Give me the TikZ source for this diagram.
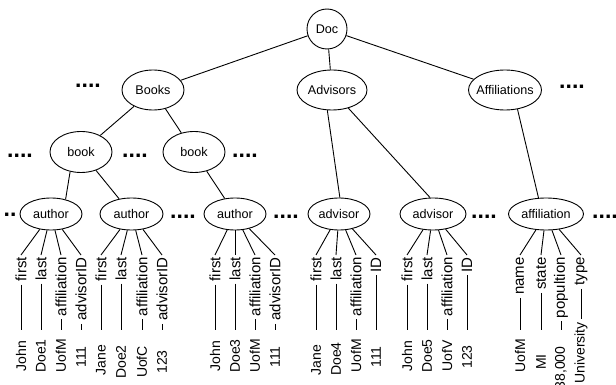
\documentclass[tikz,border=0pt]{standalone}
\usepackage{fontspec}
\setmainfont{Liberation Sans}
\usetikzlibrary{shapes.geometric}
\newcommand{\ctext}[1]{\makebox[0pt]{#1}}
\begin{document}
\begin{tikzpicture}[x=1pt,y=-1pt,
  ell/.style={draw, ellipse, line width=0.9pt, inner sep=0pt, font=\fontsize{12.6}{14}\selectfont},
  conn/.style={line width=0.9pt},
  lab/.style={rotate=90, anchor=east, inner sep=2pt, font=\fontsize{15}{17}\selectfont},
  val/.style={rotate=90, anchor=center, inner sep=0pt, font=\fontsize{14}{16}\selectfont},
  dots/.style={anchor=base, inner sep=0pt, font=\bfseries\fontsize{23}{23}\selectfont}
]
\useasboundingbox (0,0) rectangle (616,385);

% upper levels
\node[ell, minimum width=40pt, minimum height=40pt] (doc) at (327,29) {\ctext{Doc}};
\node[ell, minimum width=62pt, minimum height=40pt] (books) at (153,90) {\ctext{Books}};
\node[ell, minimum width=70pt, minimum height=40pt] (advisors) at (332,90) {\ctext{Advisors}};
\node[ell, minimum width=73pt, minimum height=40pt] (affils) at (505,90) {\ctext{Affiliations}};
\node[ell, minimum width=62pt, minimum height=41pt] (book1) at (81,152) {\ctext{book}};
\node[ell, minimum width=62pt, minimum height=41pt] (book2) at (194,152) {\ctext{book}};
\node[ell, minimum width=62pt, minimum height=32pt] (author1) at (51,214) {\ctext{author}};
\node[ell, minimum width=63pt, minimum height=32pt] (author2) at (131.5,214) {\ctext{author}};
\node[ell, minimum width=62pt, minimum height=32pt] (author3) at (235,214) {\ctext{author}};
\node[ell, minimum width=62pt, minimum height=32pt] (advisor1) at (339,214) {\ctext{advisor}};
\node[ell, minimum width=66pt, minimum height=32pt] (advisor2) at (433,214) {\ctext{advisor}};
\node[ell, minimum width=75pt, minimum height=32pt] (affil) at (546,214) {\ctext{affiliation}};

% dots
\node[dots] (d1) at (88,87.6) {....};
\node[dots] (d2) at (572,88.6) {....};
\node[dots] (d3) at (20,157.6) {....};
\node[dots] (d4) at (135,157.6) {....};
\node[dots] (d5) at (245,157.6) {....};
\node[dots] (d6) at (10,216.6) {..};
\node[dots] (d7) at (183,218.6) {....};
\node[dots] (d8) at (286,218.6) {....};
\node[dots] (d9) at (484,218.6) {....};
\node[dots] (d10) at (605,218.6) {....};

% connectors
\draw[conn] (doc) -- (books);
\draw[conn] (doc) -- (advisors);
\draw[conn] (doc) -- (affils);
\draw[conn] (books) -- (book1);
\draw[conn] (books) -- (book2);
\draw[conn] (book1.241) -- (author1.45);
\draw[conn] (book1) -- (author2);
\draw[conn] (book2) -- (author3);
\draw[conn] (advisors.257) -- (advisor1.87);
\draw[conn] (advisors.-48) -- (advisor2.100);
\draw[conn] (affils.-57) -- (affil.115);

% leaves
\foreach \pa/\xc/\lb/\vl/\vy/\ey/\id in {
  author1/21/first/John/356/330/a1, author1/41/last/Doe1/356/330/a2,
  author1/61/affiliation/UofM/356/330/a3, author1/81/advisorID/111/357/330/a4,
  author2/101/first/Jane/360/330/b1, author2/121/last/Doe2/362/330/b2,
  author2/142/affiliation/UofC/362/330/b3, author2/162/advisorID/123/362/330/b4,
  author3/215/first/John/356/330/c1, author3/235/last/Doe3/356/330/c2,
  author3/255/affiliation/UofM/356/330/c3, author3/275/advisorID/111/357/330/c4,
  advisor1/316/first/Jane/360/330/e1, advisor1/336/last/Doe4/359/330/e2,
  advisor1/356/affiliation/UofM/356/330/e3, advisor1/376/ID/111/357/330/e4,
  advisor2/407/first/John/356/330/f1, advisor2/427/last/Doe5/356/330/f2,
  advisor2/447/affiliation/UofV/356/330/f3, advisor2/467/ID/123/357/330/f4,
  affil/520/name/UofM/356/330/g1, affil/541/state/MI/362/330/g2,
  affil/561/popultion/{38,000}/368/330/g3, affil/581/type/University/353/319/g4} {
  \node[lab] (L\id) at (\xc,255) {\lb};
  \node[val] (V\id) at (\xc,\vy) {\vl};
  \coordinate (E\id) at (\xc,\ey);
  \draw[conn] (\pa) -- (L\id.east);
  \draw[conn, shorten <=1pt] (L\id.west) -- (E\id);
}
\end{tikzpicture}
\end{document}
